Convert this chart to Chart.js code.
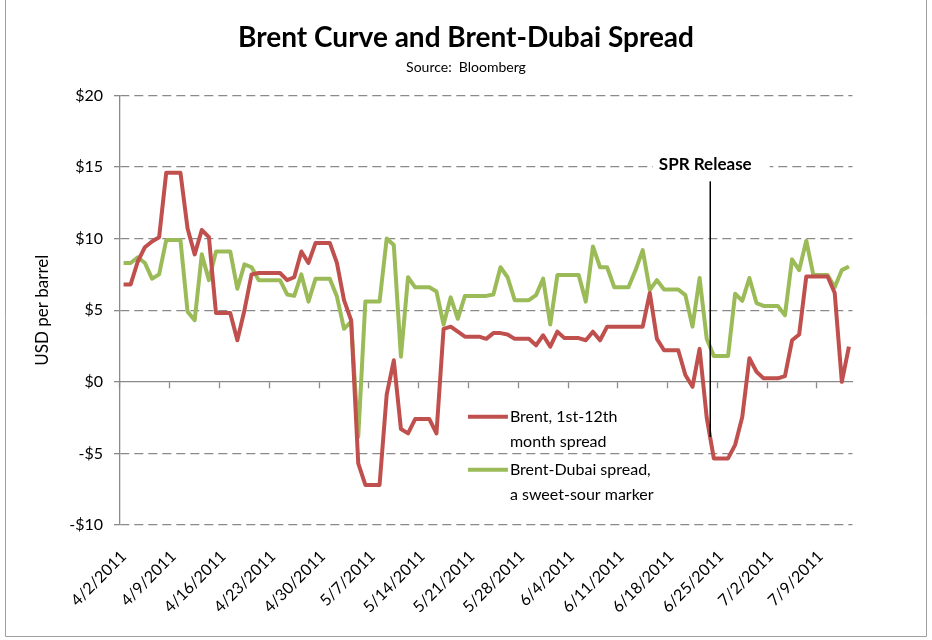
<!DOCTYPE html>
<html>
<head>
<meta charset="utf-8">
<script src="https://cdn.jsdelivr.net/npm/chart.js@4.4.1/dist/chart.umd.min.js"></script>
<style>
  html, body { margin: 0; padding: 0; background: #fff; }
  #wrap { position: relative; width: 932px; height: 640px; }
</style>
</head>
<body>
<div id="wrap"><canvas id="myChart" width="932" height="640"></canvas></div>
<script>
// daily dates, weekends carry the Friday value
const dates = [
  '4/2/2011','4/3/2011','4/4/2011','4/5/2011','4/6/2011','4/7/2011','4/8/2011',
  '4/9/2011','4/10/2011','4/11/2011','4/12/2011','4/13/2011','4/14/2011','4/15/2011',
  '4/16/2011','4/17/2011','4/18/2011','4/19/2011','4/20/2011','4/21/2011','4/22/2011',
  '4/23/2011','4/24/2011','4/25/2011','4/26/2011','4/27/2011','4/28/2011','4/29/2011',
  '4/30/2011','5/1/2011','5/2/2011','5/3/2011','5/4/2011','5/5/2011','5/6/2011',
  '5/7/2011','5/8/2011','5/9/2011','5/10/2011','5/11/2011','5/12/2011','5/13/2011',
  '5/14/2011','5/15/2011','5/16/2011','5/17/2011','5/18/2011','5/19/2011','5/20/2011',
  '5/21/2011','5/22/2011','5/23/2011','5/24/2011','5/25/2011','5/26/2011','5/27/2011',
  '5/28/2011','5/29/2011','5/30/2011','5/31/2011','6/1/2011','6/2/2011','6/3/2011',
  '6/4/2011','6/5/2011','6/6/2011','6/7/2011','6/8/2011','6/9/2011','6/10/2011',
  '6/11/2011','6/12/2011','6/13/2011','6/14/2011','6/15/2011','6/16/2011','6/17/2011',
  '6/18/2011','6/19/2011','6/20/2011','6/21/2011','6/22/2011','6/23/2011','6/24/2011',
  '6/25/2011','6/26/2011','6/27/2011','6/28/2011','6/29/2011','6/30/2011','7/1/2011',
  '7/2/2011','7/3/2011','7/4/2011','7/5/2011','7/6/2011','7/7/2011','7/8/2011',
  '7/9/2011','7/10/2011','7/11/2011','7/12/2011','7/13/2011'
];

const tickLabels = ['4/2/2011','4/9/2011','4/16/2011','4/23/2011','4/30/2011','5/7/2011','5/14/2011',
  '5/21/2011','5/28/2011','6/4/2011','6/11/2011','6/18/2011','6/25/2011','7/2/2011','7/9/2011'];

// Brent, 1st-12th month spread
const brentSpread = [
  6.8, 6.8, 8.4, 9.4, 9.8, 10.1, 14.6,
  14.6, 14.6, 10.7, 8.9, 10.6, 10.1, 4.8,
  4.8, 4.8, 2.9, 5.0, 7.5, 7.6, 7.6,
  7.6, 7.6, 7.1, 7.3, 9.1, 8.3, 9.7,
  9.7, 9.7, 8.3, 5.7, 4.3, -5.7, -7.2,
  -7.2, -7.2, -0.9, 1.5, -3.3, -3.6, -2.6,
  -2.6, -2.6, -3.6, 3.7, 3.85, 3.5, 3.15,
  3.15, 3.15, 3.0, 3.4, 3.4, 3.3, 3.0,
  3.0, 3.0, 2.55, 3.25, 2.45, 3.5, 3.05,
  3.05, 3.05, 2.9, 3.5, 2.9, 3.85, 3.85,
  3.85, 3.85, 3.85, 3.85, 6.2, 3.0, 2.2,
  2.2, 2.2, 0.47, -0.35, 2.3, -2.5, -5.35,
  -5.35, -5.35, -4.4, -2.45, 1.65, 0.7, 0.24,
  0.24, 0.24, 0.4, 2.9, 3.3, 7.35, 7.35,
  7.35, 7.35, 6.2, 0.0, 2.45
];

// Brent-Dubai spread
const brentDubai = [
  8.3, 8.3, 8.7, 8.3, 7.2, 7.5, 9.9,
  9.9, 9.9, 4.9, 4.3, 8.9, 7.1, 9.1,
  9.1, 9.1, 6.5, 8.2, 8.0, 7.1, 7.1,
  7.1, 7.1, 6.1, 6.0, 7.5, 5.6, 7.2,
  7.2, 7.2, 5.95, 3.7, 4.2, -3.85, 5.6,
  5.6, 5.6, 10.0, 9.55, 1.75, 7.3, 6.6,
  6.6, 6.6, 6.3, 4.0, 5.9, 4.4, 6.0,
  6.0, 6.0, 6.0, 6.1, 8.0, 7.3, 5.7,
  5.7, 5.7, 6.05, 7.2, 4.0, 7.45, 7.45,
  7.45, 7.45, 5.6, 9.45, 8.0, 8.0, 6.6,
  6.6, 6.6, 7.8, 9.2, 6.4, 7.1, 6.45,
  6.45, 6.45, 6.05, 3.85, 7.25, 3.0, 1.8,
  1.8, 1.8, 6.15, 5.65, 7.25, 5.5, 5.3,
  5.3, 5.3, 4.65, 8.55, 7.8, 9.85, 7.45,
  7.45, 7.45, 6.6, 7.8, 8.05
];

const seriesNames = [['Brent, 1st-12th', 'month spread'], ['Brent-Dubai spread,', 'a sweet-sour marker']];
const yTicks = [-10, -5, 0, 5, 10, 15, 20];

// SPR release marker: between 6/23 and 6/24, spanning y values
const sprPos = 82.5;
const sprRange = [-3.85, 14.0];
const sprLabelValue = 15.2;

const gridGray = '#8a8a8a';
const fontFam = 'Lato, "Open Sans", sans-serif';

// thin frame round the chart (left, right, bottom)
const frame = {
  id: 'frame',
  beforeDraw(chart) {
    const {ctx, width, height} = chart;
    ctx.save();
    ctx.strokeStyle = '#a0a0a0';
    ctx.lineWidth = 1;
    ctx.beginPath();
    ctx.moveTo(5.5, 0);
    ctx.lineTo(5.5, height - 3.5);
    ctx.lineTo(width - 5.5, height - 3.5);
    ctx.lineTo(width - 5.5, 0);
    ctx.stroke();
    ctx.restore();
  }
};

// SPR Release line and label
const sprNote = {
  id: 'sprNote',
  afterDatasetsDraw(chart) {
    const {ctx, scales} = chart;
    const x = scales.x.getPixelForValue(sprPos);
    const y1 = scales.y.getPixelForValue(sprRange[1]);
    const y2 = scales.y.getPixelForValue(sprRange[0]);
    ctx.save();
    ctx.strokeStyle = '#000';
    ctx.lineWidth = 1.5;
    ctx.beginPath();
    ctx.moveTo(x, y1);
    ctx.lineTo(x, y2);
    ctx.stroke();
    ctx.font = 'bold 17px ' + fontFam;
    const txt = 'SPR Release';
    const w = ctx.measureText(txt).width;
    const ty = scales.y.getPixelForValue(sprLabelValue);
    const tx = x - 5;
    ctx.fillStyle = '#fff';
    ctx.fillRect(tx - w / 2 - 6, ty - 12, w + 24, 24);
    ctx.fillStyle = '#000';
    ctx.textAlign = 'center';
    ctx.textBaseline = 'middle';
    ctx.fillText(txt, tx, ty);
    ctx.restore();
  }
};

// legend sitting inside the plot area
const plotLegend = {
  id: 'plotLegend',
  afterDraw(chart) {
    const {ctx, chartArea: a} = chart;
    const x0 = a.left + 0.475 * (a.right - a.left);
    let y = a.top + 0.748 * (a.bottom - a.top);
    ctx.save();
    ctx.font = '16px ' + fontFam;
    ctx.textBaseline = 'middle';
    ctx.fillStyle = '#000';
    chart.data.datasets.forEach((ds, i) => {
      ctx.strokeStyle = ds.borderColor;
      ctx.lineWidth = ds.borderWidth;
      ctx.beginPath();
      ctx.moveTo(x0, y);
      ctx.lineTo(x0 + 40, y);
      ctx.stroke();
      seriesNames[i].forEach((t, k) => ctx.fillText(t, x0 + 42, y + k * 25));
      y += 53;
    });
    ctx.restore();
  }
};

new Chart(document.getElementById('myChart'), {
  type: 'line',
  data: {
    labels: dates,
    datasets: [{
      label: seriesNames[0].join(' '),
      data: brentSpread,
      borderColor: '#C0504D',
      borderWidth: 4,
      pointRadius: 0,
      borderJoinStyle: 'round',
      tension: 0
    }, {
      label: seriesNames[1].join(' '),
      data: brentDubai,
      borderColor: '#9BBB59',
      borderWidth: 4,
      pointRadius: 0,
      borderJoinStyle: 'round',
      tension: 0
    }]
  },
  options: {
    responsive: false,
    animation: false,
    layout: { padding: 0 },
    plugins: {
      legend: { display: false },
      tooltip: { enabled: false },
      title: {
        display: true,
        text: 'Brent Curve and Brent-Dubai Spread',
        color: '#000',
        font: { family: fontFam, size: 28, weight: 'bold' },
        padding: { top: 21, bottom: 4 }
      },
      subtitle: {
        display: true,
        text: 'Source:  Bloomberg',
        color: '#000',
        font: { family: fontFam, size: 14 },
        padding: { top: 0, bottom: 20 }
      }
    },
    scales: {
      x: {
        type: 'category',
        position: 'bottom',
        offset: true,
        grid: { display: false },
        border: { display: false },
        ticks: {
          autoSkip: false,
          minRotation: 45,
          maxRotation: 45,
          padding: 14,
          color: '#000',
          font: { family: fontFam, size: 16 },
          callback: function (v) {
            const l = this.getLabelForValue(v);
            return tickLabels.includes(l) ? l : '';
          }
        },
        afterFit: s => { s.height = 115; }
      },
      x0: {
        type: 'category',
        position: { y: 0 },
        offset: true,
        ticks: { display: false, autoSkip: false },
        grid: {
          offset: true,
          drawOnChartArea: false,
          drawTicks: true,
          tickLength: 6,
          tickWidth: 1.3,
          color: c => tickLabels.includes(dates[c.index]) ? gridGray : 'rgba(0,0,0,0)',
          tickColor: c => tickLabels.includes(dates[c.index]) ? gridGray : 'rgba(0,0,0,0)'
        },
        border: { display: true, color: gridGray, width: 1.3 }
      },
      y: {
        min: -10,
        max: 20,
        afterBuildTicks: s => { s.ticks = yTicks.map(v => ({ value: v })); },
        ticks: {
          color: '#000',
          padding: 11,
          font: { family: fontFam, size: 16 },
          callback: v => (v < 0 ? '-$' : '$') + Math.abs(v)
        },
        grid: {
          color: c => (c.tick && c.tick.value === 0) ? 'rgba(0,0,0,0)' : gridGray,
          lineWidth: 1.3,
          tickColor: gridGray,
          tickLength: 6,
          tickBorderDash: []
        },
        border: { display: true, color: gridGray, width: 1.3, dash: [9, 5] },
        title: {
          display: true,
          text: 'USD per barrel',
          color: '#000',
          font: { family: fontFam, size: 17 },
          padding: { top: 32, bottom: 0 }
        },
        afterFit: s => { s.width = 120; }
      },
      // empty right-hand space so the title centres on the whole canvas
      yRight: {
        type: 'linear',
        position: 'right',
        grid: { display: false },
        border: { display: false },
        ticks: { display: false },
        afterFit: s => { s.width = 79.5; }
      }
    }
  },
  plugins: [frame, sprNote, plotLegend]
});
</script>
</body>
</html>
